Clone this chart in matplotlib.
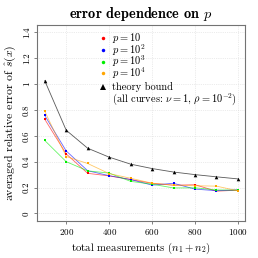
import numpy as np
import matplotlib
matplotlib.use("Agg")
from matplotlib import pyplot as plt

plt.rcParams["font.family"] = ["cmr10", "DejaVu Serif"]
plt.rcParams["mathtext.fontset"] = "cm"
plt.rcParams["axes.unicode_minus"] = False
plt.rcParams["axes.formatter.use_mathtext"] = True

# total measurements n1 + n2
n_total = [100, 200, 300, 400, 500, 600, 700, 800, 900, 1000]

err_p1 = [0.728, 0.460, 0.310, 0.290, 0.262, 0.233, 0.218, 0.222, 0.172, 0.180]
err_p2 = [0.757, 0.483, 0.330, 0.292, 0.262, 0.219, 0.233, 0.188, 0.176, 0.182]
err_p3 = [0.564, 0.400, 0.329, 0.312, 0.248, 0.226, 0.197, 0.198, 0.182, 0.180]
err_p4 = [0.790, 0.440, 0.386, 0.308, 0.272, 0.234, 0.219, 0.214, 0.211, 0.175]
theory = [1.026, 0.643, 0.504, 0.435, 0.381, 0.347, 0.320, 0.300, 0.283, 0.267]

series_labels = ["$p = 10$", "$p = 10^2$", "$p = 10^3$", "$p = 10^4$"]
series_colors = ["#ff0000", "#0000ff", "#00ee00", "#ffa500"]
note = "(all curves: $\\nu = 1$, $\\rho = 10^{-2}$)"

fig = plt.figure(figsize=(2.58, 2.58), dpi=100)
ax = fig.add_axes([37 / 258, 1 - 220.7 / 258, 208 / 258, 195.7 / 258])

for vals, col in zip([err_p1, err_p2, err_p3, err_p4], series_colors):
    ax.plot(n_total, vals, color=col, lw=0.6, alpha=0.6, zorder=3)
    ax.plot(n_total, vals, ls="none", marker="s", ms=1.6, color=col, mew=0, zorder=4)

ax.plot(n_total, theory, color="0.35", lw=0.6, zorder=3)
ax.plot(n_total, theory, ls="none", marker="^", ms=2.6, color="black", mew=0, zorder=4)

ax.set_xlim(64, 1033)
ax.set_ylim(-0.056, 1.456)
ax.set_xticks([200, 400, 600, 800, 1000])
ax.set_yticks([0, 0.2, 0.4, 0.6, 0.8, 1.0, 1.2, 1.4])
ax.set_yticklabels(["0", "0.2", "0.4", "0.6", "0.8", "1", "1.2", "1.4"], rotation=90, va="center")
ax.grid(True, ls=":", lw=0.5, color="0.85")
ax.tick_params(labelsize=6.5, length=2.5, width=0.5, color="0.3", pad=2)
for sp in ax.spines.values():
    sp.set_color("0.45")
    sp.set_linewidth(0.8)

ax.set_xlabel("total measurements $(n_1 + n_2)$", fontsize=7.8, labelpad=3)
ax.set_ylabel("averaged relative error of $\\hat{s}(x)$", fontsize=8.5, labelpad=3)
ax.set_title("error dependence on $p$", fontsize=10.3, family=["cmb10", "DejaVu Serif"], pad=5)

# legend drawn by hand (R-style, no frame, evenly spaced rows)
row_y = [0.932, 0.872, 0.813, 0.753, 0.685, 0.621]
key_x, text_x = 0.317, 0.362
for yy, col, lab in zip(row_y, series_colors, series_labels):
    ax.plot([key_x], [yy], transform=ax.transAxes, ls="none", marker="o", ms=2.5,
            color=col, mew=0, clip_on=False)
    ax.text(text_x, yy, lab, transform=ax.transAxes, fontsize=7.5, va="center", ha="left")
ax.plot([key_x], [row_y[4]], transform=ax.transAxes, ls="none", marker="^", ms=5,
        color="black", mew=0, clip_on=False)
ax.text(text_x, row_y[4], "theory bound", transform=ax.transAxes, fontsize=7.5,
        va="center", ha="left")
ax.text(text_x, row_y[5], note, transform=ax.transAxes, fontsize=7.5, va="center", ha="left")

fig.savefig("out.png", dpi=100)
